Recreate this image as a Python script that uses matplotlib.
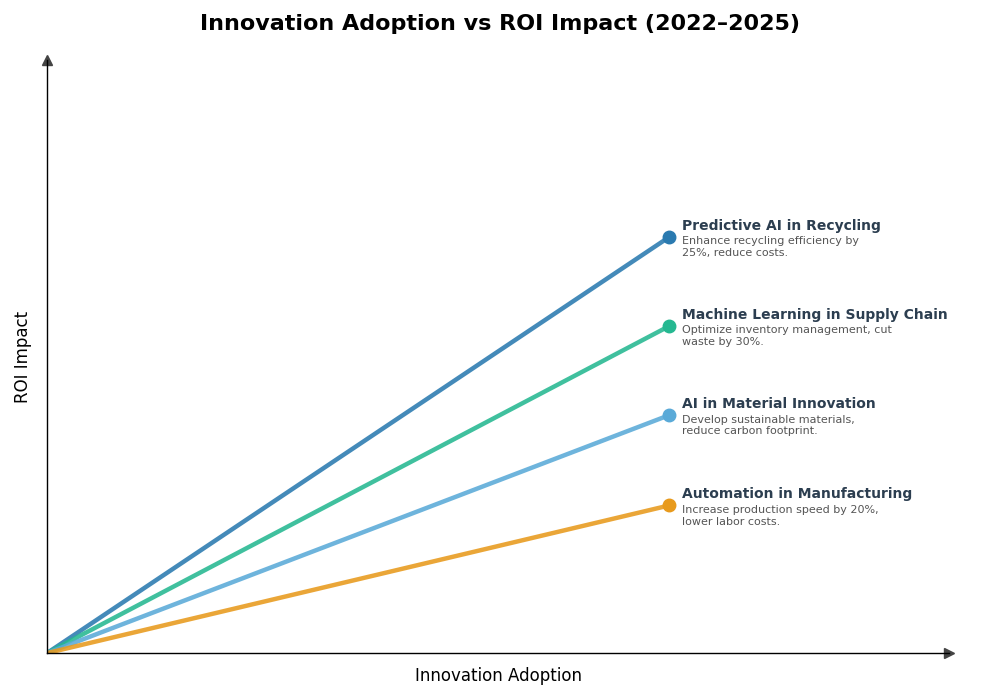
import matplotlib.pyplot as plt
import matplotlib as mpl

mpl.rcParams["font.family"] = "DejaVu Sans"

# data
names = ["Predictive AI in Recycling", "Machine Learning in Supply Chain",
         "AI in Material Innovation", "Automation in Manufacturing"]
descs = ["Enhance recycling efficiency by\n25%, reduce costs.",
         "Optimize inventory management, cut\nwaste by 30%.",
         "Develop sustainable materials,\nreduce carbon footprint.",
         "Increase production speed by 20%,\nlower labor costs."]
adoption = [70, 70, 70, 70]
roi = [69.6, 54.7, 39.8, 24.7]
colors = ["#2a7ab0", "#25b891", "#5aaad8", "#e89a1c"]

fig = plt.figure(figsize=(10, 7), dpi=100)
ax = fig.add_axes([0.047, 0.067, 0.902, 0.847])
ax.set_xlim(0, 101.5)
ax.set_ylim(0, 99.2)

for a, r, c in zip(adoption, roi, colors):
    ax.plot([0, a], [0, r], color=c, lw=3.2, alpha=0.88, solid_capstyle="butt", zorder=2)
    ax.plot(a, r, "o", color=c, ms=9, zorder=3, clip_on=False)

for a, r, n, d in zip(adoption, roi, names, descs):
    ax.annotate(n, (a, r), xytext=(9.5, 3), textcoords="offset points",
                fontsize=10, fontweight="bold", color="#2c3e50", va="bottom")
    ax.annotate(d, (a, r), xytext=(9.5, 0.5), textcoords="offset points",
                fontsize=8, color="#555555", va="top", linespacing=1.22)

for s in ["top", "right"]:
    ax.spines[s].set_visible(False)
for s in ["left", "bottom"]:
    ax.spines[s].set_color("black")
    ax.spines[s].set_linewidth(1.0)
ax.set_xticks([])
ax.set_yticks([])

# axis arrows
ax.plot(1, 0, ">", color="#444444", ms=7, transform=ax.transAxes, clip_on=False)
ax.plot(0, 1, "^", color="#444444", ms=7, transform=ax.transAxes, clip_on=False)

ax.set_xlabel("Innovation Adoption", fontsize=12, labelpad=10)
ax.set_ylabel("ROI Impact", fontsize=12, labelpad=11)
fig.suptitle("Innovation Adoption vs ROI Impact (2022\u20132025)",
             fontsize=16, fontweight="bold", y=0.98)

fig.savefig("out.png")
